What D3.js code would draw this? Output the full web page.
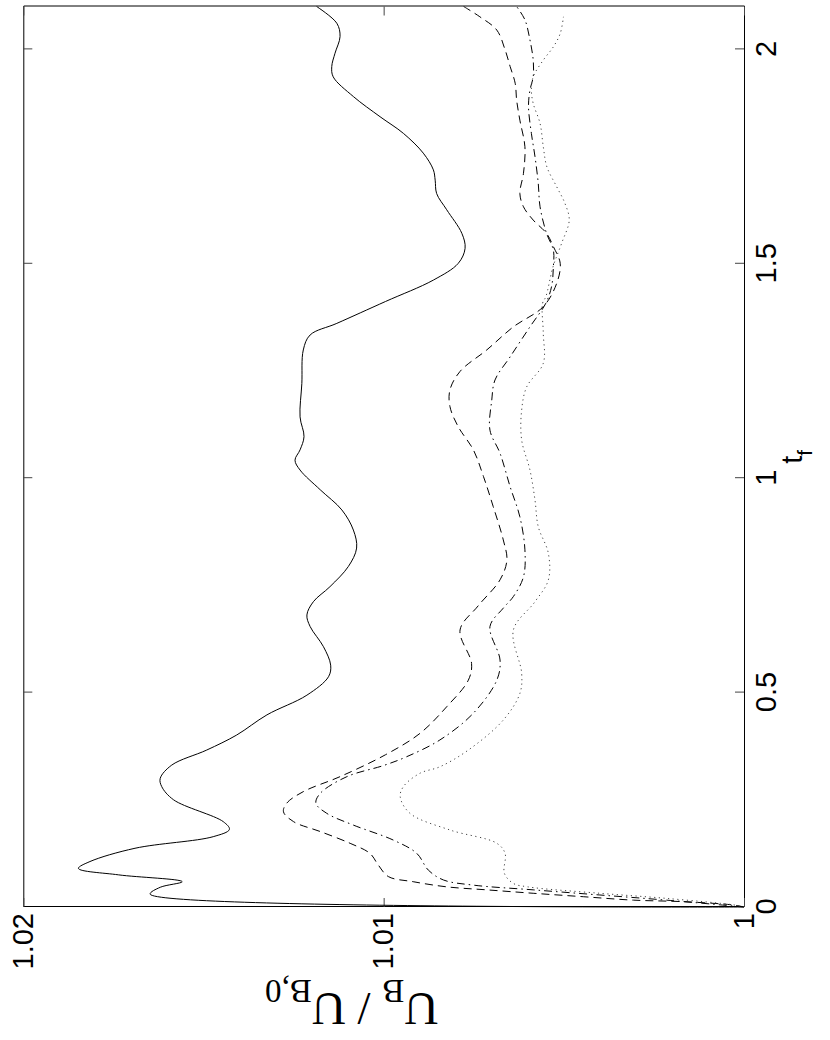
<!DOCTYPE html>
<html><head><meta charset="utf-8">
<script src="https://cdn.jsdelivr.net/npm/d3@7"></script>
<style>body{margin:0;background:#fff}</style>
</head><body>
<svg id="chart" width="830" height="1040"></svg>
<script>
// tick definitions
const tTicks = [0, 0.5, 1, 1.5, 2];
const tTickLabels = ["0", "0.5", "1", "1.5", "2"];
const uTicks = [1, 1.01, 1.02];
const uTickLabels = ["1", "1.01", "1.02"];

// series: [t_f, U_B/U_B,0]
const solidSeries = [
 [0,1.0],[0.030,1.01648],[0.046,1.0162],[0.059,1.01559],[0.075,1.01736],[0.090,1.01847],
 [0.106,1.01815],[0.137,1.0169],[0.164,1.01473],[0.181,1.01428],[0.199,1.01445],[0.250,1.01583],
 [0.281,1.01616],[0.300,1.0162],[0.331,1.01588],[0.366,1.01491],[0.401,1.01408],[0.448,1.01324],
 [0.494,1.01213],[0.537,1.01153],[0.564,1.01147],[0.607,1.01167],[0.654,1.01204],[0.681,1.01213],
 [0.712,1.01195],[0.747,1.01149],[0.794,1.01098],[0.837,1.01075],[0.879,1.01084],[0.926,1.01116],
 [0.973,1.01176],[1.019,1.01232],[1.042,1.01246],[1.066,1.01232],[1.097,1.01221],[1.143,1.01232],
 [1.221,1.01227],[1.299,1.01223],[1.334,1.01204],[1.361,1.0113],[1.412,1.00995],[1.462,1.00862],
 [1.501,1.00793],[1.536,1.00774],[1.571,1.00783],[1.626,1.00825],[1.664,1.00853],[1.695,1.00857],
 [1.719,1.00862],[1.758,1.0089],[1.804,1.00945],[1.843,1.0101],[1.890,1.01084],[1.936,1.0114],
 [1.960,1.01144],[1.991,1.01135],[2.030,1.01121],[2.061,1.0113],[2.100,1.01186]
];
const dashedSeries = [
 [0,1.0],[0.0047,1.0003],[0.0124,1.00168],[0.016,1.00307],[0.024,1.00446],[0.032,1.00585],
 [0.040,1.00714],[0.047,1.00825],[0.059,1.00918],[0.071,1.00987],[0.098,1.01015],[0.125,1.01038],
 [0.1485,1.01093],[0.176,1.01176],[0.199,1.0125],[0.222,1.01278],[0.242,1.01269],[0.269,1.01223],
 [0.304,1.01121],[0.355,1.00995],[0.405,1.00899],[0.467,1.00825],[0.529,1.00765],[0.568,1.00756],
 [0.646,1.00788],[0.702,1.00738],[0.763,1.00677],[0.809,1.00658],[0.856,1.00668],[0.934,1.00696],
 [1.004,1.00723],[1.066,1.00751],[1.12,1.00793],[1.167,1.00816],[1.206,1.00816],[1.249,1.00788],
 [1.299,1.00714],[1.353,1.0064],[1.40,1.00557],[1.454,1.0052],[1.501,1.0051],[1.54,1.00529],
 [1.571,1.00548],[1.602,1.00585],[1.633,1.00612],[1.664,1.00622],[1.711,1.00612],[1.773,1.00608],
 [1.835,1.00622],[1.882,1.00631],[1.921,1.00635],[1.96,1.00649],[1.999,1.00663],[2.045,1.00686],
 [2.076,1.00733],[2.10,1.00778]
];
const dashDotSeries = [
 [0,1.0],[0.016,1.00215],[0.028,1.004],[0.040,1.00585],[0.051,1.00751],[0.063,1.00834],
 [0.086,1.00876],[0.125,1.00908],[0.156,1.00973],[0.191,1.01084],[0.2185,1.01158],[0.242,1.01188],
 [0.265,1.01176],[0.304,1.01102],[0.33,1.0100],[0.3505,1.00936],[0.3895,1.00844],[0.452,1.00751],
 [0.529,1.00686],[0.576,1.00677],[0.654,1.00705],[0.697,1.00668],[0.724,1.0064],[0.770,1.00612],
 [0.833,1.00608],[0.910,1.00622],[0.980,1.00649],[1.058,1.00677],[1.112,1.00705],[1.182,1.007],
 [1.229,1.00691],[1.283,1.00649],[1.353,1.00594],[1.408,1.0055],[1.447,1.00534],[1.493,1.00529],
 [1.532,1.00529],[1.571,1.00548],[1.633,1.00566],[1.688,1.00571],[1.75,1.0058],[1.804,1.0059],
 [1.866,1.00598],[1.905,1.00594],[1.936,1.00585],[1.975,1.00585],[2.022,1.00594],[2.069,1.00608],
 [2.10,1.00631]
];
const dottedSeries = [
 [0,1.0],[0.005,1.0003],[0.020,1.00214],[0.032,1.004],[0.047,1.006],[0.055,1.0064],
 [0.0786,1.00665],[0.125,1.00663],[0.1486,1.00686],[0.1796,1.00816],[0.2185,1.00927],[0.257,1.00954],
 [0.281,1.00945],[0.312,1.00899],[0.327,1.00844],[0.366,1.00765],[0.436,1.00668],[0.498,1.00622],
 [0.545,1.00617],[0.646,1.0064],[0.712,1.0058],[0.7626,1.00543],[0.825,1.00543],[0.887,1.00571],
 [0.949,1.0058],[1.019,1.00594],[1.089,1.00617],[1.159,1.00617],[1.213,1.00603],[1.268,1.00557],
 [1.338,1.00557],[1.408,1.00559],[1.423,1.0055],[1.493,1.0053],[1.548,1.00506],[1.602,1.00485],
 [1.641,1.00497],[1.68,1.0052],[1.726,1.00547],[1.773,1.00557],[1.8275,1.00566],[1.874,1.00585],
 [1.905,1.0059],[1.936,1.00585],[1.975,1.00557],[2.006,1.00529],[2.037,1.0051],[2.076,1.00501]
];

const svg = d3.select("#chart");
const W = 900.5, H = 720.7;
// whole plot rotated 90 degrees counter-clockwise
const g = svg.append("g").attr("transform", "translate(23.3,907) rotate(-90)");
const x = d3.scaleLinear().domain([0, 2.1]).range([0, W]);
const y = d3.scaleLinear().domain([1, 1.02]).range([H, 0]);

const fontSans = "'Liberation Sans', Arial, Helvetica, sans-serif";
function styleAxis(sel) {
  sel.attr("font-family", fontSans).attr("font-size", 29);
  sel.selectAll("text").attr("fill", "#000");
  sel.selectAll(".tick line").attr("stroke", "#444");
  sel.select(".domain").attr("stroke", "#000");
}

g.append("g").attr("transform", `translate(0,${H})`)
  .call(d3.axisBottom(x).tickValues(tTicks).tickFormat((d, i) => tTickLabels[i])
    .tickSizeInner(-9).tickSizeOuter(0).tickPadding(11))
  .call(styleAxis);
g.append("g")
  .call(d3.axisTop(x).tickValues(tTicks).tickFormat("").tickSizeInner(-9).tickSizeOuter(0))
  .call(styleAxis);
g.append("g")
  .call(d3.axisLeft(y).tickValues(uTicks).tickFormat((d, i) => uTickLabels[i])
    .tickSizeInner(-9).tickSizeOuter(0).tickPadding(6))
  .call(styleAxis);
g.append("g").attr("transform", `translate(${W},0)`)
  .call(d3.axisRight(y).tickValues(uTicks).tickFormat("").tickSizeInner(-9).tickSizeOuter(0))
  .call(styleAxis);

const line = d3.line().x(d => x(d[0])).y(d => y(d[1])).curve(d3.curveCatmullRom.alpha(0.5));
const series = [
  {data: solidSeries, dash: null, color: "#000"},
  {data: dashedSeries, dash: "8,5", color: "#000"},
  {data: dashDotSeries, dash: "8,4,1.5,4", color: "#000"},
  {data: dottedSeries, dash: "1.2,3.5", color: "#444"}
];
g.selectAll("path.series").data(series).enter().append("path")
  .attr("class", "series")
  .attr("d", d => line(d.data))
  .attr("fill", "none")
  .attr("stroke", d => d.color)
  .attr("stroke-width", 1)
  .attr("stroke-dasharray", d => d.dash);

// x label t_f
const xl = g.append("text")
  .attr("x", x(1.05)).attr("y", H + 58)
  .attr("text-anchor", "middle")
  .attr("font-family", fontSans).attr("font-size", 29);
xl.append("tspan").text("t");
xl.append("tspan").attr("dy", 10).attr("font-size", 21).text("f");

// y label U_B / U_B,0
const yl = g.append("text")
  .attr("transform", `translate(-86,${y(1.01) - 32}) rotate(-90)`)
  .attr("text-anchor", "middle")
  .attr("font-family", "'Liberation Serif', 'Times New Roman', serif").attr("font-size", 47);
yl.append("tspan").text("U");
yl.append("tspan").attr("dy", 13).attr("font-size", 33).text("B");
yl.append("tspan").attr("dy", -13).text(" / U");
yl.append("tspan").attr("dy", 13).attr("font-size", 33).text("B,0");
</script>
</body></html>
